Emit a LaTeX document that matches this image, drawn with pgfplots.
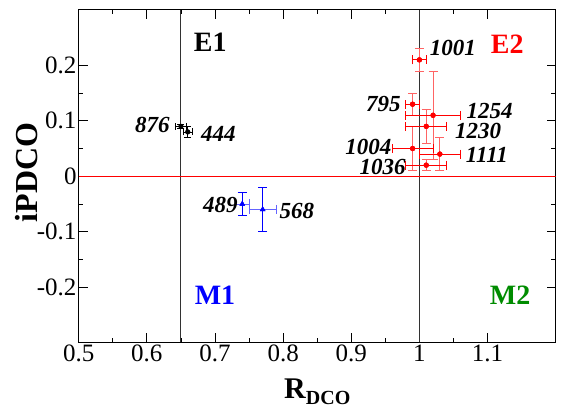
\documentclass[border=0pt]{standalone}
\usepackage{pgfplots}
\usepackage{pgfplotstable}
\pgfplotsset{compat=1.18}
\usepackage{fontspec}
\setmainfont{Liberation Serif}
\definecolor{mgreen}{RGB}{0,140,0}
\definecolor{lred}{RGB}{255,100,100}
\definecolor{lblue}{RGB}{100,100,255}
\definecolor{vline}{RGB}{50,50,50}

\pgfplotstableread{
x y ex ey
1.00 0.21 0.010 0.02
0.99 0.13 0.010 0.02
1.02 0.11 0.040 0.08
1.01 0.09 0.030 0.03
0.99 0.05 0.030 0.04
1.03 0.04 0.030 0.03
1.01 0.02 0.030 0.01
}\redtab

\pgfplotstableread{
x y ex ey
0.65 0.09 0.008 0.003
0.66 0.08 0.007 0.010
}\blacktab

\pgfplotstableread{
x y ex ey
0.74 -0.05 0.010 0.02
0.77 -0.06 0.020 0.04
}\bluetab

\begin{document}
\begin{tikzpicture}
\begin{axis}[
  scale only axis, width=477pt, height=332.5pt,
  xmin=0.5, xmax=1.2, ymin=-0.3, ymax=0.3,
  xtick={0.5,0.6,0.7,0.8,0.9,1.0,1.1},
  xticklabels={0.5,0.6,0.7,0.8,0.9,1,1.1},
  ytick={-0.2,-0.1,0,0.1,0.2},
  yticklabels={-0.2,-0.1,0,0.1,0.2},
  minor x tick num=1, minor y tick num=1,
  tick align=inside,
  major tick length=9pt, minor tick length=4.5pt,
  tick style={line width=0.8pt, black},
  axis line style={line width=1pt},
  tick label style={font=\fontsize{25}{30}\selectfont, inner sep=2pt},
  /pgf/number format/assume math mode=true,
  xlabel={\textbf{R}\raisebox{-6pt}{\fontsize{20}{24}\selectfont\textbf{DCO}}},
  xlabel style={font=\fontsize{30}{36}\selectfont, at={(axis description cs:0.5,-0.167)}, anchor=base},
  ylabel={\textbf{iPDCO}},
  ylabel style={font=\fontsize{32}{38}\selectfont, at={(axis description cs:-0.086,0.512)}, anchor=base, rotate=0},
  clip=true,
]
% reference lines
\addplot[vline, line width=0.9pt, forget plot] coordinates {(0.65,-0.3) (0.65,0.3)};
\addplot[vline, line width=0.9pt, forget plot] coordinates {(1.0,-0.3) (1.0,0.3)};
\addplot[red, line width=0.9pt, forget plot] coordinates {(0.5,0) (1.2,0)};

% red series: y errors (light), x errors (red)
\addplot[only marks, mark=*, mark size=2.4pt, mark options={fill=red, draw=red}, forget plot,
  error bars/.cd, y dir=both, y explicit,
  error bar style={lred, line width=0.9pt},
  error mark options={rotate=90, mark size=4.5pt, lred, line width=0.9pt}]
  table[x=x, y=y, y error=ey] {\redtab};
\addplot[only marks, mark=*, mark size=2.4pt, mark options={fill=red, draw=red}, forget plot,
  error bars/.cd, x dir=both, x explicit,
  error bar style={red, line width=0.9pt},
  error mark options={rotate=90, mark size=4.5pt, red, line width=0.9pt}]
  table[x=x, y=y, x error=ex] {\redtab};

% black series
\addplot[only marks, mark=*, mark size=2.4pt, mark options={fill=black, draw=black}, forget plot,
  error bars/.cd, x dir=both, x explicit, y dir=both, y explicit,
  error bar style={black, line width=0.8pt},
  error mark options={rotate=90, mark size=3.5pt, black, line width=0.8pt}]
  table[x=x, y=y, x error=ex, y error=ey] {\blacktab};

% blue series: x errors (light), y errors (blue)
\addplot[only marks, mark=triangle*, mark size=2.8pt, mark options={fill=blue, draw=blue}, forget plot,
  error bars/.cd, x dir=both, x explicit,
  error bar style={lblue, line width=0.9pt},
  error mark options={rotate=90, mark size=4.5pt, lblue, line width=0.9pt}]
  table[x=x, y=y, x error=ex] {\bluetab};
\addplot[only marks, mark=triangle*, mark size=2.8pt, mark options={fill=blue, draw=blue}, forget plot,
  error bars/.cd, y dir=both, y explicit,
  error bar style={blue, line width=0.9pt},
  error mark options={rotate=90, mark size=4.5pt, blue, line width=0.9pt}]
  table[x=x, y=y, y error=ey] {\bluetab};

% quadrant labels
\node[font=\fontsize{28}{34}\selectfont\bfseries, text=black] at (axis cs:0.693,0.242) {E1};
\node[font=\fontsize{28}{34}\selectfont\bfseries, text=red] at (axis cs:1.129,0.238) {E2};
\node[font=\fontsize{28}{34}\selectfont\bfseries, text=blue] at (axis cs:0.700,-0.214) {M1};
\node[font=\fontsize{28}{34}\selectfont\bfseries, text=mgreen] at (axis cs:1.133,-0.214) {M2};

% point labels
\tikzset{lab/.style={font=\fontsize{23}{28}\selectfont\bfseries\itshape, inner sep=0pt}}
\node[lab] at (axis cs:1.049,0.231) {1001};
\node[lab] at (axis cs:0.947,0.131) {795};
\node[lab] at (axis cs:1.103,0.117) {1254};
\node[lab] at (axis cs:1.086,0.081) {1230};
\node[lab] at (axis cs:0.925,0.052) {1004};
\node[lab] at (axis cs:1.099,0.039) {1111};
\node[lab] at (axis cs:0.946,0.0175) {1036};
\node[lab] at (axis cs:0.608,0.093) {876};
\node[lab] at (axis cs:0.705,0.077) {444};
\node[lab] at (axis cs:0.708,-0.051) {489};
\node[lab] at (axis cs:0.820,-0.062) {568};
\end{axis}
\pgfresetboundingbox
\useasboundingbox ([shift={(-78.7pt,-64.5pt)}]current axis.south west) rectangle ([shift={(9.3pt,10pt)}]current axis.north east);
\end{tikzpicture}
\end{document}
